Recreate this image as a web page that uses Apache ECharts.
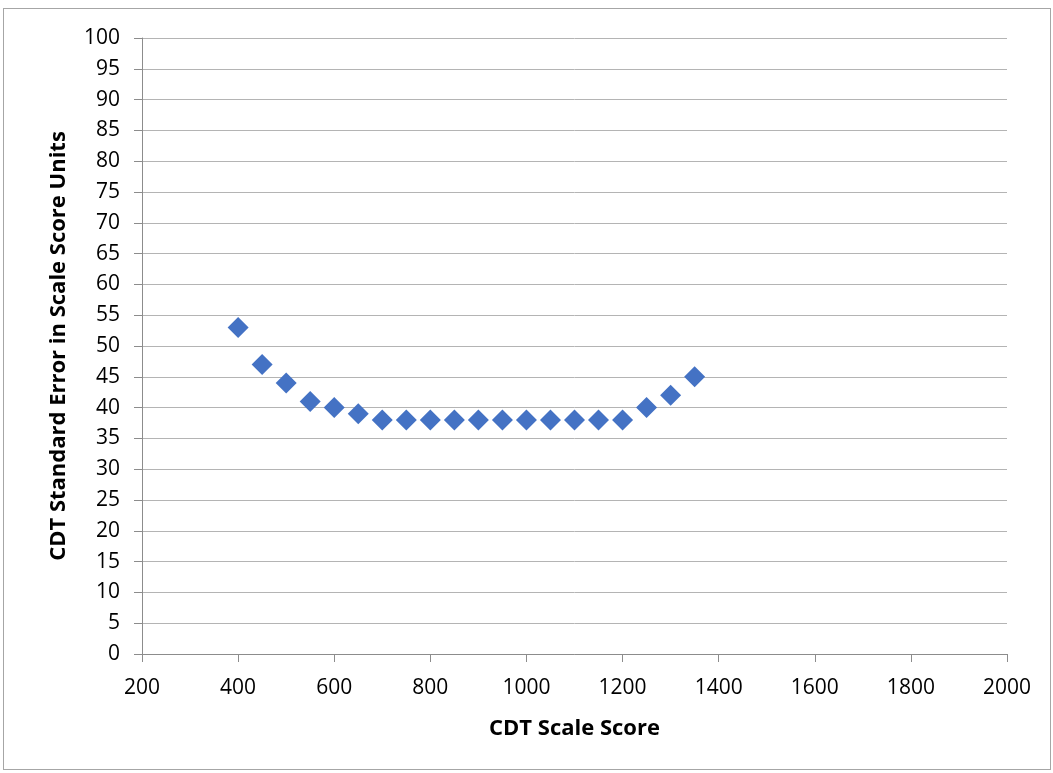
<!DOCTYPE html>
<html><head><meta charset="utf-8">
<script src="https://cdn.jsdelivr.net/npm/echarts@6/dist/echarts.min.js"></script>
<style>html,body{margin:0;padding:0;background:#fff;}#frame{position:absolute;left:3px;top:8px;width:1048px;height:762px;border:1px solid #a6a6a6;box-sizing:border-box;}#c{width:1053px;height:773px;}</style>
</head><body>
<div id="frame"></div>
<div id="c"></div>
<script>
const scaleScores = [400,450,500,550,600,650,700,750,800,850,900,950,1000,1050,1100,1150,1200,1250,1300,1350];
const standardErrors = [53,47,44,41,40,39,38,38,38,38,38,38,38,38,38,38,38,40,42,45];
const xTitle = 'CDT Scale Score';
const yTitle = 'CDT Standard Error in Scale Score Units';
const font = '"Open Sans", "Liberation Sans", sans-serif';
const chart = echarts.init(document.getElementById('c'), null, {renderer:'canvas'});
chart.setOption({
  backgroundColor: 'transparent',
  animation: false,
  grid: {left: 142, right: 46, top: 38, bottom: 119, containLabel: false},
  xAxis: {
    type: 'value', min: 200, max: 2000, interval: 200,
    name: xTitle, nameLocation: 'middle', nameGap: 64,
    nameTextStyle: {fontFamily: font, fontSize: 22, fontWeight: 'bold', color: '#000'},
    axisLine: {show: true, lineStyle: {color: '#8c8c8c', width: 1}},
    axisTick: {show: true, length: 8, inside: false, lineStyle: {color: '#8c8c8c'}},
    axisLabel: {fontFamily: font, fontSize: 21, color: '#000', margin: 24, formatter: v => String(v)},
    splitLine: {show: false}
  },
  yAxis: {
    type: 'value', min: 0, max: 100, interval: 5,
    name: yTitle, nameLocation: 'middle', nameGap: 72,
    nameTextStyle: {fontFamily: font, fontSize: 22, fontWeight: 'bold', color: '#000'},
    axisLine: {show: true, lineStyle: {color: '#8c8c8c', width: 1}},
    axisTick: {show: true, length: 8, inside: false, lineStyle: {color: '#8c8c8c'}},
    axisLabel: {fontFamily: font, fontSize: 21, color: '#000', margin: 22, formatter: v => String(v)},
    splitLine: {show: true, lineStyle: {color: '#b4b4b4', width: 1}}
  },
  series: [{
    type: 'scatter',
    data: scaleScores.map((x,i)=>[x, standardErrors[i]]),
    symbol: 'diamond', symbolSize: [21, 21],
    itemStyle: {color: '#4472C4', opacity: 1}
  }]
});
</script>
</body></html>
